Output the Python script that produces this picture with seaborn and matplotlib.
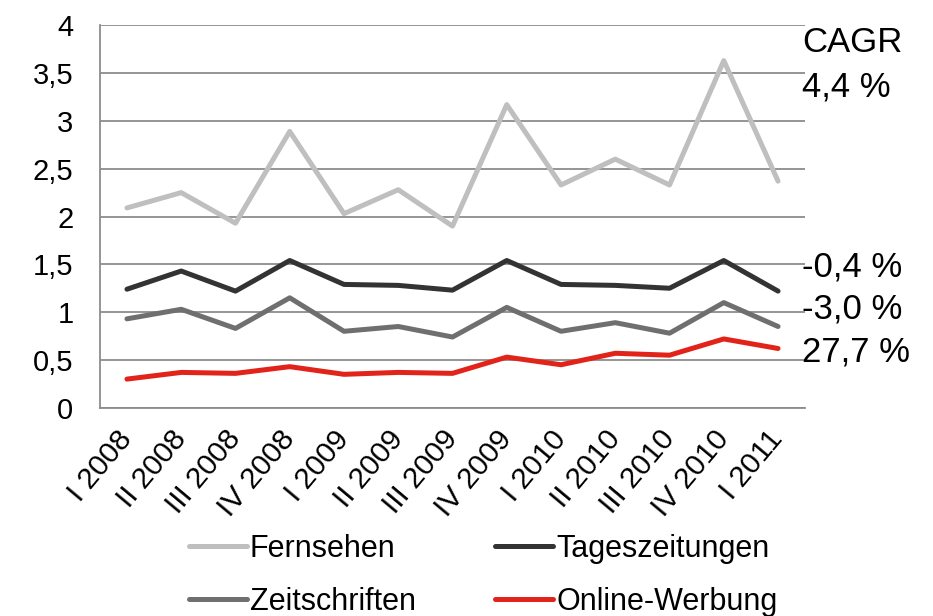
import matplotlib
matplotlib.use('Agg')
import matplotlib.pyplot as plt
import seaborn as sns
import pandas as pd

# Quartale
quarters = ['I 2008', 'II 2008', 'III 2008', 'IV 2008',
            'I 2009', 'II 2009', 'III 2009', 'IV 2009',
            'I 2010', 'II 2010', 'III 2010', 'IV 2010', 'I 2011']

fernsehen = [2.09, 2.25, 1.93, 2.89, 2.03, 2.28, 1.90, 3.17, 2.33, 2.60, 2.33, 3.63, 2.37]
tageszeitungen = [1.24, 1.43, 1.22, 1.54, 1.29, 1.28, 1.23, 1.54, 1.29, 1.28, 1.25, 1.54, 1.22]
zeitschriften = [0.93, 1.03, 0.83, 1.15, 0.80, 0.85, 0.74, 1.05, 0.80, 0.89, 0.78, 1.10, 0.85]
online = [0.30, 0.37, 0.36, 0.43, 0.35, 0.37, 0.36, 0.53, 0.45, 0.57, 0.55, 0.72, 0.62]

series_names = ['Fernsehen', 'Tageszeitungen', 'Zeitschriften', 'Online-Werbung']
series_values = [fernsehen, tageszeitungen, zeitschriften, online]
colors = ['#BFBFBF', '#333333', '#6F6F6F', '#E2231A']

# CAGR-Beschriftungen rechts (Grundlinie in Datenkoordinaten)
cagr_labels = ['CAGR', '4,4 %', '-0,4 %', '-3,0 %', '27,7 %']
cagr_y = [3.72, 3.25, 1.37, 0.93, 0.48]

df = pd.DataFrame({
    'Quartal': quarters * len(series_names),
    'Wert': [v for vals in series_values for v in vals],
    'Medium': [n for n in series_names for _ in quarters],
})

sns.set_style('white')
plt.rcParams['font.family'] = ['Liberation Sans', 'DejaVu Sans']
plt.rcParams['text.color'] = 'black'
plt.rcParams['xtick.color'] = 'black'
plt.rcParams['ytick.color'] = 'black'

fig = plt.figure(figsize=(9.33, 6.16), dpi=100)
ax = fig.add_axes([0.107, 0.338, 0.756, 0.621])

sns.lineplot(data=df, x='Quartal', y='Wert', hue='Medium', palette=colors,
             hue_order=series_names, sort=False, linewidth=3.6, ax=ax, legend=True)

ax.set_xlim(-0.5, len(quarters) - 0.5)
ax.set_ylim(0, 4)
ax.set_yticks([0, 0.5, 1, 1.5, 2, 2.5, 3, 3.5, 4])
ax.set_yticklabels(['0', '0,5', '1', '1,5', '2', '2,5', '3', '3,5', '4'], fontsize=21)
ax.yaxis.grid(True, color='#8C8C8C', linewidth=1.3)
ax.set_axisbelow(True)
for s in ['top', 'right']:
    ax.spines[s].set_visible(False)
ax.spines['left'].set_color('#8C8C8C')
ax.spines['bottom'].set_color('#8C8C8C')
ax.spines['left'].set_linewidth(1.3)
ax.spines['bottom'].set_linewidth(1.3)
ax.tick_params(axis='y', length=0, pad=19)
ax.tick_params(axis='x', length=0, pad=19)
ax.set_xticks(range(len(quarters)))
ax.set_xticklabels(quarters, rotation=50, ha='right', va='center',
                   rotation_mode='anchor', fontsize=21.5)
ax.set_xlabel('')
ax.set_ylabel('')

for lab, yv in zip(cagr_labels, cagr_y):
    ax.text(0.996, yv, lab, transform=ax.get_yaxis_transform(), fontsize=25,
            va='baseline', ha='left', clip_on=False)

# Legende zeilenweise: Fernsehen | Tageszeitungen / Zeitschriften | Online-Werbung
handles, labels = ax.get_legend_handles_labels()
order = [0, 2, 1, 3]
ax.get_legend().remove()
fig.legend([handles[i] for i in order], [labels[i] for i in order],
           loc='center', bbox_to_anchor=(0.518, 0.066), ncol=2,
           frameon=False, fontsize=22, handlelength=1.9, handletextpad=0.1,
           columnspacing=2.6, labelspacing=0.75)

fig.savefig('out.png', dpi=100)
